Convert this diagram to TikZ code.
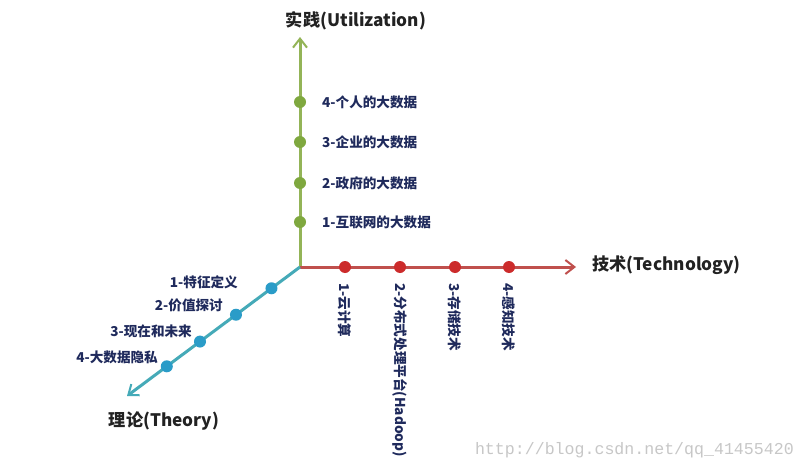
\documentclass[tikz,border=0pt]{standalone}
\usepackage{fontspec}
\setmainfont{Noto Sans CJK SC}
\newfontfamily\wmfont{Liberation Mono}
\usetikzlibrary{arrows.meta,calc}
\definecolor{gax}{HTML}{93B457}
\definecolor{gdot}{HTML}{7FA83F}
\definecolor{rax}{HTML}{C0504D}
\definecolor{rdot}{HTML}{CC2B2B}
\definecolor{bax}{HTML}{45AAB8}
\definecolor{bdot}{HTML}{2A9CC8}
\definecolor{lbl}{HTML}{1F2A5C}
\definecolor{ttl}{HTML}{222222}
\tikzset{
  axisline/.style={line width=3pt,-{Straight Barb[length=9pt,width=14pt,line width=2pt]}},
  dotg/.style={circle,fill=gdot,inner sep=0pt,minimum size=12pt},
  dotr/.style={circle,fill=rdot,inner sep=0pt,minimum size=12pt},
  dotb/.style={circle,fill=bdot,inner sep=0pt,minimum size=12pt},
  itemlbl/.style={font=\fontsize{13.6}{15}\selectfont\bfseries,text=lbl,inner sep=0pt},
  titlelbl/.style={font=\fontsize{17.2}{19}\selectfont\bfseries,text=ttl,inner sep=0pt},
}
\begin{document}
\begin{tikzpicture}[x=1pt,y=-1pt]
\path[use as bounding box,fill=white] (0,0) rectangle (806,471);
\coordinate (O) at (300,267);
\coordinate (U) at (300,37);
\coordinate (T) at (576,267);
\coordinate (Th) at (127,396);
% axes
\draw[axisline,gax] (O) -- (U);
\draw[axisline,rax] (O) -- (T);
\draw[axisline,bax] (O) -- (Th);
% titles
\node[titlelbl] (tu) at (356,21) {实践(Utilization)};
\node[titlelbl,anchor=west] (tt) at (592,265) {技术(Technology)};
\node[titlelbl] (tth) at (164,421) {理论(Theory)};
% green
\node[dotg] (g4) at (300,102) {};
\node[dotg] (g3) at (300,142) {};
\node[dotg] (g2) at (300,183) {};
\node[dotg] (g1) at (300,222) {};
\node[itemlbl,anchor=west] (lg4) at (322,102) {4-个人的大数据};
\node[itemlbl,anchor=west] (lg3) at (322,142) {3-企业的大数据};
\node[itemlbl,anchor=west] (lg2) at (322,183) {2-政府的大数据};
\node[itemlbl,anchor=west] (lg1) at (322,222) {1-互联网的大数据};
% red
\node[dotr] (r1) at (345,267) {};
\node[dotr] (r2) at (400,267) {};
\node[dotr] (r3) at (455,267) {};
\node[dotr] (r4) at (509,267) {};
\node[itemlbl,rotate=-90,anchor=west] (lr1) at (345,283) {1-云计算};
\node[itemlbl,rotate=-90,anchor=west] (lr2) at (400,283) {2-分布式处理平台(Hadoop)};
\node[itemlbl,rotate=-90,anchor=west] (lr3) at (455,283) {3-存储技术};
\node[itemlbl,rotate=-90,anchor=west] (lr4) at (509,283) {4-感知技术};
% blue
\node[dotb] (b1) at ($(O)!0.165!(Th)$) {};
\node[dotb] (b2) at ($(O)!0.37!(Th)$) {};
\node[dotb] (b3) at ($(O)!0.578!(Th)$) {};
\node[dotb] (b4) at ($(O)!0.77!(Th)$) {};
\node[itemlbl,anchor=east] (lb1) at (238,282) {1-特征定义};
\node[itemlbl,anchor=east] (lb2) at (223,305) {2-价值探讨};
\node[itemlbl,anchor=east] (lb3) at (192,331) {3-现在和未来};
\node[itemlbl,anchor=east] (lb4) at (158,357) {4-大数据隐私};
% watermark
\node[font=\wmfont\fontsize{16.6}{18}\selectfont,text=black!22,anchor=east,inner sep=0pt] (wm) at (794,450) {http://blog.csdn.net/qq\_41455420};
\end{tikzpicture}
\end{document}
